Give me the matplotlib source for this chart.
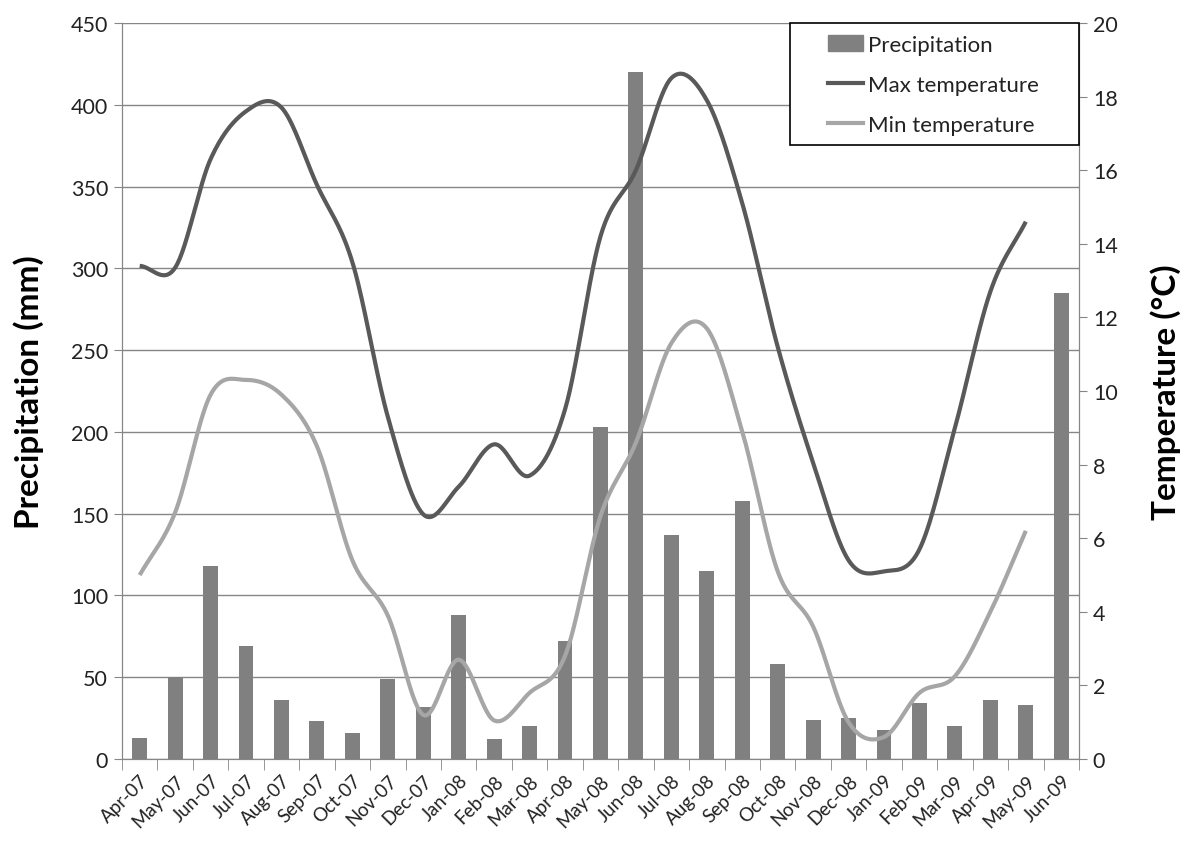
import numpy as np
import matplotlib
matplotlib.use("Agg")
import matplotlib.pyplot as plt
from matplotlib.lines import Line2D
from matplotlib.patches import Patch, Rectangle

months = ["Apr-07", "May-07", "Jun-07", "Jul-07", "Aug-07", "Sep-07", "Oct-07", "Nov-07",
          "Dec-07", "Jan-08", "Feb-08", "Mar-08", "Apr-08", "May-08", "Jun-08", "Jul-08",
          "Aug-08", "Sep-08", "Oct-08", "Nov-08", "Dec-08", "Jan-09", "Feb-09", "Mar-09",
          "Apr-09", "May-09", "Jun-09"]
precip = [13, 50, 118, 69, 36, 23, 16, 49, 32, 88, 12, 20, 72, 203, 420, 137,
          115, 158, 58, 24, 25, 18, 34, 20, 36, 33, 285]
# temperatures stop at May-09
tmax = [13.4, 13.35, 16.3, 17.6, 17.7, 15.6, 13.5, 9.3, 6.65, 7.4, 8.55, 7.7, 9.5,
        14.2, 16.0, 18.5, 17.9, 15.1, 11.2, 8.05, 5.4, 5.1, 5.7, 9.0, 12.7, 14.6]
tmin = [5.0, 6.7, 9.9, 10.3, 9.9, 8.5, 5.4, 3.9, 1.2, 2.7, 1.05, 1.8, 2.8,
        6.6, 8.6, 11.3, 11.7, 8.9, 5.1, 3.6, 1.0, 0.6, 1.8, 2.25, 4.0, 6.2]


def smooth(y, n=30):
    # Catmull-Rom style curve through the points (like Excel "smoothed line")
    y = np.asarray(y, float)
    x = np.arange(len(y), dtype=float)
    px = np.concatenate([[2 * x[0] - x[1]], x, [2 * x[-1] - x[-2]]])
    py = np.concatenate([[2 * y[0] - y[1]], y, [2 * y[-1] - y[-2]]])
    xs, ys = [], []
    t = np.linspace(0, 1, n, endpoint=False)
    for i in range(1, len(px) - 2):
        for arr, out in ((px, xs), (py, ys)):
            p0, p1, p2, p3 = arr[i - 1], arr[i], arr[i + 1], arr[i + 2]
            out.extend(0.5 * ((2 * p1) + (-p0 + p2) * t + (2 * p0 - 5 * p1 + 4 * p2 - p3) * t ** 2
                              + (-p0 + 3 * p1 - 3 * p2 + p3) * t ** 3))
    xs.append(x[-1]); ys.append(y[-1])
    return np.array(xs), np.array(ys)


plt.rcParams['font.family'] = ['Lato', 'DejaVu Sans']
grey = '#868686'
txt = '#222222'

fig = plt.figure(figsize=(11.9, 8.54), dpi=100)
ax = fig.add_axes([0.1025, 0.110, 0.8042, 0.862])
ax2 = ax.twinx()

x = np.arange(len(months))
ax.bar(x, precip, width=0.42, color='#808080', zorder=2)
ax.set_ylim(0, 450)
ax.set_yticks(np.arange(0, 451, 50))
ax.set_xlim(-0.5, len(months) - 0.5)
ax.yaxis.grid(True, color=grey, linewidth=1)
ax.set_axisbelow(True)

ax.set_xticks(x)
ax.set_xticklabels(months, rotation=45, ha='right', rotation_mode='anchor', fontsize=13.5, color=txt)
ax.set_xticks(np.arange(-0.5, len(months), 1), minor=True)
ax.tick_params(axis='x', which='major', length=0, pad=9)
ax.tick_params(axis='x', which='minor', length=8, color=grey, direction='out')
ax.tick_params(axis='y', labelsize=15.5, labelcolor=txt, length=6, color=grey, pad=4)

for s in ['top']:
    ax.spines[s].set_visible(False)
    ax2.spines[s].set_visible(False)
for s in ['left', 'bottom', 'right']:
    ax.spines[s].set_color(grey)
    ax2.spines[s].set_color(grey)

xs, ys = smooth(tmax)
ax2.plot(xs, ys, color='#595959', linewidth=3, solid_capstyle='butt', zorder=3)
xs, ys = smooth(tmin)
ax2.plot(xs, ys, color='#A6A6A6', linewidth=3, solid_capstyle='butt', zorder=3)
ax2.set_ylim(0, 20)
ax2.set_yticks(np.arange(0, 21, 2))
ax2.tick_params(axis='y', labelsize=15.5, labelcolor=txt, length=6, color=grey, pad=4)

ax.set_ylabel('Precipitation (mm)', fontsize=24, fontweight='bold', color='black')
ax.yaxis.set_label_coords(-0.082, 0.5)
ax2.set_ylabel('Temperature (°C)', fontsize=24, fontweight='bold', color='black')
ax2.yaxis.set_label_coords(1.074, 0.5)

# legend box
ax2.add_patch(Rectangle((0.698, 0.834), 0.302, 0.166, transform=ax2.transAxes,
                        facecolor='white', edgecolor='black', linewidth=1.2, zorder=4,
                        clip_on=False))
handles = [Patch(color='#808080'),
           Line2D([], [], color='#595959', linewidth=3),
           Line2D([], [], color='#A6A6A6', linewidth=3)]
leg = ax2.legend(handles, ['Precipitation', 'Max temperature', 'Min temperature'],
                 loc='upper left', bbox_to_anchor=(0.738, 0.984), fontsize=16, frameon=False,
                 borderaxespad=0, borderpad=0,
                 handlelength=1.55, handletextpad=0.22, labelspacing=0.9)
leg.set_zorder(5)
for t in leg.get_texts():
    t.set_color(txt)

fig.savefig('out.png', dpi=100)
